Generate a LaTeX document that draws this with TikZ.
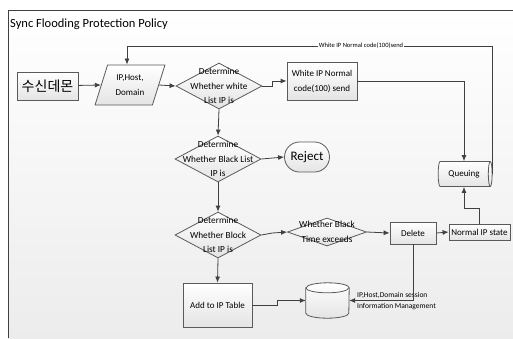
\documentclass[tikz,border=0pt]{standalone}
\usepackage{fontspec}
\setmainfont{Carlito}
\newfontfamily\kofont{Noto Sans CJK KR}
\usetikzlibrary{shapes.geometric,shapes.misc,arrows.meta}
\definecolor{linec}{HTML}{404040}
\definecolor{boxc}{HTML}{5A5A5A}
\definecolor{boxbot}{HTML}{E4E4E4}
\definecolor{bgbot}{HTML}{ECECEC}
\tikzset{
  conn/.style={draw=linec, line width=0.8pt},
  arr/.style={conn, -{Latex[length=6pt,width=5pt]}},
  boxshade/.style={draw=boxc, line width=0.8pt, top color=white, bottom color=boxbot},
  txt/.style={font=\fontsize{9}{15}\selectfont, align=center},
  stepbox/.style={boxshade, txt, rectangle, inner sep=0pt},
  decision/.style={boxshade, diamond, inner sep=0pt, minimum width=86pt, minimum height=46pt},
  dlabel/.style={txt, inner sep=0pt, font=\fontsize{9.3}{14.5}\selectfont},
  flabel/.style={fill=white, inner sep=1pt, font=\fontsize{6.5}{7}\selectfont}
}
\begin{document}
\begin{tikzpicture}[x=1pt,y=-1pt]
\useasboundingbox (0,0) rectangle (513,338);
% panel background and frame
\shade[top color=white, bottom color=bgbot] (8,10) rectangle (513,338);
\draw[linec, line width=0.9pt] (8,338) -- (8,10) -- (513,10);
\node[anchor=west, inner sep=0pt, font=\fontsize{12.5}{14}\selectfont] (title) at (10,24) {Sync Flooding Protection Policy};

% nodes
\node[stepbox, font=\kofont\fontsize{14}{14}\selectfont, minimum width=61pt, minimum height=28pt] (src) at (47.5,86) {수신데몬};
\node[boxshade, txt, trapezium, trapezium left angle=69, trapezium right angle=111, trapezium stretches=true, minimum width=70pt, minimum height=40pt, inner sep=0pt] (para) at (130,85) {IP,Host,\\Domain};
\node[decision, label={[dlabel]center:{Determine\\Whether white\\List IP is}}] (d1) at (219,86) {};
\node[stepbox, minimum width=70pt, minimum height=38pt] (w) at (322,81) {White IP Normal\\code(100) send};
\node[decision, label={[dlabel]center:{Determine\\Whether Black List\\IP is}}] (d2) at (218,159) {};
\node[boxshade, rounded rectangle, minimum width=45pt, minimum height=30pt, inner sep=0pt, font=\fontsize{13}{14}\selectfont] (rej) at (307,157) {Reject};
\node[boxshade, cylinder, aspect=0.5, minimum width=25pt, minimum height=54pt, inner sep=0pt, txt] (q) at (464,174) {Queuing};
\node[decision, label={[dlabel]center:{Determine\\Whether Block\\List IP is}}] (d3) at (218,235) {};
\node[boxshade, diamond, inner sep=0pt, minimum width=79pt, minimum height=28pt, label={[dlabel]center:{Whether Black\\Time exceeds}}] (d4) at (327,232) {};
\node[stepbox, minimum width=46pt, minimum height=22pt] (del) at (413,233) {Delete};
\node[stepbox, minimum width=61pt, minimum height=16pt] (nip) at (479.5,232) {Normal IP state};
\node[stepbox, minimum width=69pt, minimum height=44pt] (add) at (217.5,305) {Add to IP Table};

% session store: an upright cylinder drawn around a frame node
\node[rectangle, inner sep=0pt, minimum width=43pt, minimum height=35pt] (db) at (327.5,300.5) {};
\path[boxshade] ([yshift=-5pt]db.north west) -- ([yshift=5pt]db.south west)
  arc[start angle=180, end angle=360, x radius=21.5pt, y radius=5pt]
  -- ([yshift=-5pt]db.north east)
  arc[start angle=0, end angle=180, x radius=21.5pt, y radius=5pt] -- cycle;
\draw[draw=boxc, line width=0.8pt] ([yshift=-5pt]db.north west)
  arc[start angle=180, end angle=360, x radius=21.5pt, y radius=5pt];
\node[anchor=west, inner sep=0pt, align=left, font=\fontsize{7.5}{11}\selectfont] (dblabel) at (357,301) {IP,Host,Domain session\\Information Management};

% connectors
\coordinate (fbtop) at (491,46);
\draw[arr] (src) -- (para.west);
\draw[arr] (para.east) -- (d1.west);
\draw[arr] (d1.east) -- ++(10,0) |- (w.west);
\draw[arr] (w.east) -| (q.north);
\draw[arr] (q.east) -- (q.east |- fbtop) -- node[flabel, pos=0.36] {White IP Normal code(100)send} ([xshift=-3pt]para.north |- fbtop) -- ([xshift=-3pt]para.north);
\draw[arr] (d1.south) -- (d2.north);
\draw[arr] (d2.east) -- (rej.west);
\draw[arr] (d2.south) -- (d3.north);
\draw[arr] (d3.east) -- ++(11,-2) -- (d4.west);
\draw[arr] (d4.east) -- (del.west);
\draw[arr] (del.east) -- (nip.west);
\draw[arr] (nip.north) -- ++(0,-15) -| (q.south);
\draw[arr] (d3.south) -- (add.north);
\draw[arr] (add.east) -- ++(25,0) |- (db.west);
\draw[arr] (del.south) |- (db.east);
\end{tikzpicture}
\end{document}
